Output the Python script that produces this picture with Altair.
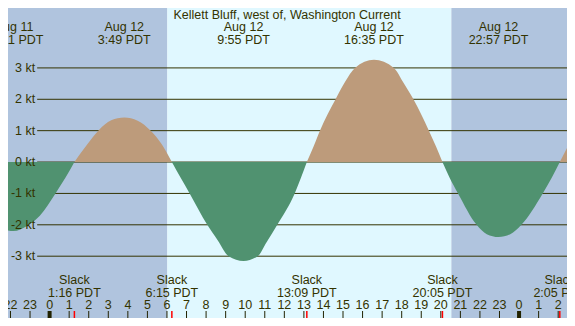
import altair as alt
import pandas as pd

# ---- data (hours from midnight Aug 12, knots) ----
seg_a_t = [-2.127, -1.85, -1.14, -0.50, 0.30, 0.80, 1.267]
seg_a_v = [-2.18, -2.20, -2.03, -1.71, -1.00, -0.51, 0.0]
seg_b_t = [1.267, 1.90, 2.49, 3.15, 3.817, 4.50, 5.17, 5.75, 6.25]
seg_b_v = [0.0, 0.54, 1.00, 1.33, 1.42, 1.32, 1.00, 0.55, 0.0]
seg_c_t = [6.25, 6.70, 7.16, 8.06, 8.60, 9.15, 9.917, 10.64, 11.10, 11.64, 12.53, 12.85, 13.15]
seg_c_v = [0.0, -0.50, -1.0, -2.0, -2.50, -3.0, -3.15, -3.0, -2.55, -2.0, -1.0, -0.50, 0.0]
seg_d_t = [13.15, 13.50, 13.82, 14.62, 15.10, 15.61, 16.583, 17.60, 18.10, 18.60, 19.39, 19.75, 20.083]
seg_d_v = [0.0, 0.50, 1.0, 2.0, 2.55, 3.0, 3.26, 3.0, 2.52, 2.0, 1.0, 0.50, 0.0]
seg_e_t = [20.083, 20.45, 20.88, 21.83, 22.35, 22.95, 23.55, 24.12, 25.21, 25.67, 26.083]
seg_e_v = [0.0, -0.50, -1.0, -2.0, -2.30, -2.39, -2.30, -2.0, -1.0, -0.50, 0.0]
seg_f_t = [26.083, 26.451]
seg_f_v = [0.0, 0.45]

segments = [("a", "ebb", seg_a_t, seg_a_v), ("b", "flood", seg_b_t, seg_b_v),
            ("c", "ebb", seg_c_t, seg_c_v), ("d", "flood", seg_d_t, seg_d_v),
            ("e", "ebb", seg_e_t, seg_e_v), ("f", "flood", seg_f_t, seg_f_v)]

levels = [3, 2, 1, 0, -1, -2, -3]
level_labels = ["3 kt", "2 kt", "1 kt", "0 kt", "-1 kt", "-2 kt", "-3 kt"]

max_t = [-1.817, 3.817, 9.917, 16.583, 22.95]
max_date = ["Aug 11", "Aug 12", "Aug 12", "Aug 12", "Aug 12"]
max_time = ["22:11 PDT", "3:49 PDT", "9:55 PDT", "16:35 PDT", "22:57 PDT"]

slack_t = [1.267, 6.25, 13.15, 20.083, 26.083]
slack_time = ["1:16 PDT", "6:15 PDT", "13:09 PDT", "20:05 PDT", "2:05 PDT"]

hour_t = list(range(-2, 27))
hour_labels = [str(h % 24) for h in hour_t]
midnight_t = [0, 24]

band_start = [-2.127, 6.02, 20.54]
band_end = [6.02, 20.54, 26.451]
band_kind = ["night", "day", "night"]

title_text = "Kellett Bluff, west of, Washington Current"

# ---- styling ----
NIGHT = "#b0c4de"
DAY = "#e0f8ff"
TAN = "#bd9b7b"
GREEN = "#509270"
INK = "#333300"
FONT = "Liberation Sans"
FS = 12.5
W, H = 559, 310
SX = W / 575

curve = pd.DataFrame([
    {"t": t, "v": v, "seg": s, "dir": d}
    for s, d, ts, vs in segments for t, v in zip(ts, vs)
])
lv = pd.DataFrame({"v": levels, "label": level_labels})
mx = pd.DataFrame({"t": max_t, "date": max_date, "time": max_time})
sl = pd.DataFrame({"t": slack_t, "time": slack_time})
hr = pd.DataFrame({"t": hour_t, "label": hour_labels})
mn = pd.DataFrame({"t": midnight_t})
bands = pd.DataFrame({"s": band_start, "e": band_end, "kind": band_kind})

xs = alt.Scale(domain=[-2.127, 26.451], nice=False, zero=False)
ys = alt.Scale(domain=[(162 - 326) / 33, 162 / 33], nice=False, zero=False)
X = lambda f: alt.X(f, scale=xs, axis=None)

bg = alt.Chart(bands).mark_rect().encode(
    x=X("s:Q"), x2="e:Q", y=alt.value(0), y2=alt.value(H),
    color=alt.Color("kind:N", scale=alt.Scale(domain=["night", "day"], range=[NIGHT, DAY]), legend=None),
)

rules = alt.Chart(lv).mark_rule(color=INK, strokeWidth=1).encode(
    y=alt.Y("v:Q", scale=ys, axis=None), x=alt.value(30 * SX), x2=alt.value(W)
)

area = alt.Chart(curve).mark_area(interpolate="monotone", opacity=1).encode(
    x=X("t:Q"),
    y=alt.Y("v:Q", scale=ys, axis=None, stack=None),
    y2=alt.datum(0),
    detail="seg:N",
    fill=alt.Fill("dir:N", scale=alt.Scale(domain=["flood", "ebb"], range=[TAN, GREEN]), legend=None),
)

ylab = alt.Chart(lv).mark_text(align="right", baseline="middle", font=FONT, fontSize=FS, color=INK).encode(
    y=alt.Y("v:Q", scale=ys, axis=None), x=alt.value(28 * SX), text="label:N"
)

txt = dict(align="center", baseline="alphabetic", font=FONT, fontSize=FS, color=INK)
title = alt.Chart(pd.DataFrame({"txt": [title_text]})).mark_text(**txt).encode(
    x=alt.value(287 * SX), y=alt.value(10.5), text="txt:N")
mdate = alt.Chart(mx).mark_text(**txt).encode(x=X("t:Q"), y=alt.value(23), text="date:N")
mtime = alt.Chart(mx).mark_text(**txt).encode(x=X("t:Q"), y=alt.value(35.5), text="time:N")
sword = alt.Chart(sl).mark_text(**txt).encode(x=X("t:Q"), y=alt.value(276), text=alt.value("Slack"))
stime = alt.Chart(sl).mark_text(**txt).encode(x=X("t:Q"), y=alt.value(288.5), text="time:N")
hlab = alt.Chart(hr).mark_text(**txt).encode(x=X("t:Q"), y=alt.value(301), text="label:N")

hticks = alt.Chart(hr).mark_rule(color="#222200", strokeWidth=1).encode(
    x=X("t:Q"), y=alt.value(303), y2=alt.value(H)
)
mticks = alt.Chart(mn).mark_rule(color="#222200", strokeWidth=4).encode(
    x=X("t:Q"), y=alt.value(303), y2=alt.value(H)
)
sticks = alt.Chart(sl).mark_rule(color="#ff0000", strokeWidth=1.5).encode(
    x=X("t:Q"), y=alt.value(303), y2=alt.value(H)
)

chart = alt.layer(
    bg, rules, area, ylab, title, mdate, mtime, sword, stime, hlab, hticks, mticks, sticks
).properties(
    width=W, height=H, padding=0,
    autosize=alt.AutoSizeParams(type="none"),
).configure_view(stroke=None)

chart.save("out.html", embed_options={"renderer": "svg", "actions": False})
